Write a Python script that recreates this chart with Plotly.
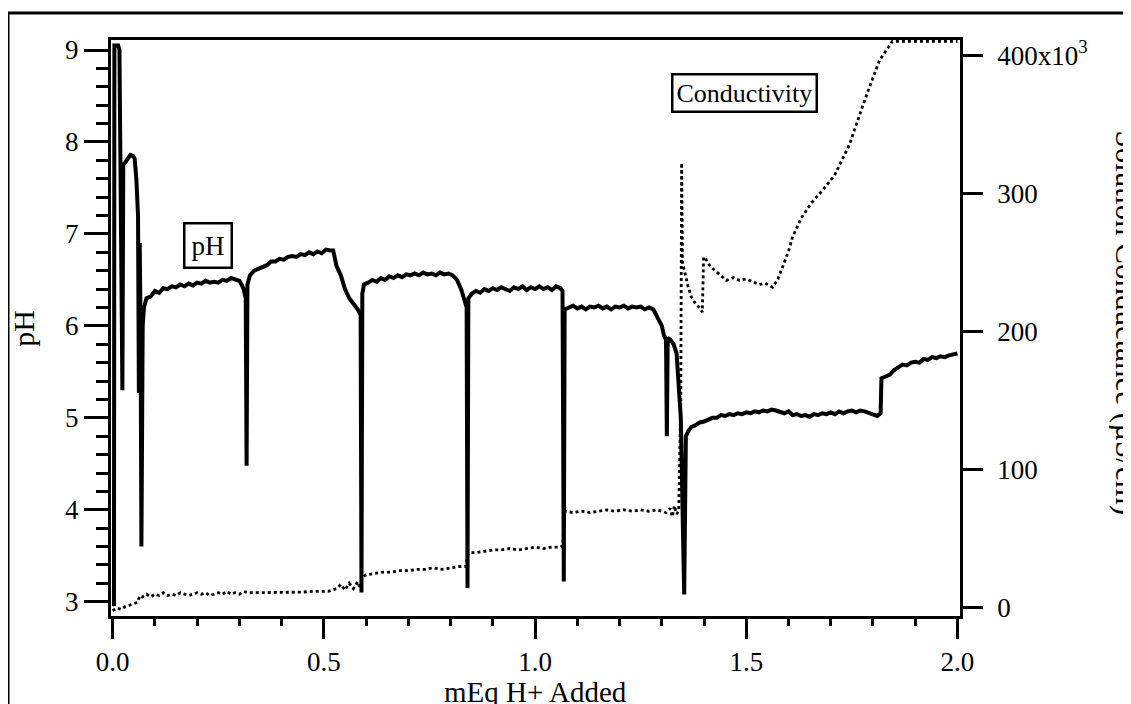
import plotly.graph_objects as go

# pH vs mEq H+ added (left axis)
ph_x = [0.003, 0.004, 0.013, 0.016, 0.023, 0.025, 0.030, 0.036, 0.042, 0.048, 0.052, 0.056, 0.060,
        0.062, 0.064, 0.066, 0.068, 0.071, 0.074, 0.080, 0.090, 0.100, 0.110, 0.120, 0.130, 0.140,
        0.150, 0.160, 0.170, 0.180, 0.190, 0.200, 0.210, 0.220, 0.230, 0.240, 0.250, 0.260, 0.270,
        0.280, 0.290, 0.300, 0.305, 0.310, 0.315, 0.317, 0.319, 0.325, 0.335, 0.345, 0.355, 0.365,
        0.375, 0.385, 0.395, 0.405, 0.415, 0.425, 0.435, 0.445, 0.455, 0.465, 0.475, 0.485, 0.495,
        0.505, 0.515, 0.522, 0.530, 0.540, 0.550, 0.560, 0.570, 0.580, 0.587, 0.589, 0.591, 0.595,
        0.605, 0.615, 0.625, 0.635, 0.645, 0.655, 0.665, 0.675, 0.685, 0.695, 0.705, 0.715, 0.725,
        0.735, 0.745, 0.755, 0.765, 0.775, 0.785, 0.795, 0.805, 0.815, 0.825, 0.833, 0.838, 0.840,
        0.842, 0.850, 0.860, 0.870, 0.880, 0.890, 0.900, 0.910, 0.920, 0.930, 0.940, 0.950, 0.960,
        0.970, 0.980, 0.990, 1.000, 1.010, 1.020, 1.030, 1.040, 1.050, 1.060, 1.065, 1.068, 1.070,
        1.080, 1.090, 1.100, 1.110, 1.120, 1.130, 1.140, 1.150, 1.160, 1.170, 1.180, 1.190, 1.200,
        1.210, 1.220, 1.230, 1.240, 1.250, 1.260, 1.270, 1.280, 1.290, 1.300, 1.305, 1.310, 1.312,
        1.314, 1.320, 1.328, 1.335, 1.345, 1.353, 1.357, 1.362, 1.370, 1.380, 1.390, 1.400, 1.410,
        1.420, 1.430, 1.440, 1.450, 1.460, 1.470, 1.480, 1.490, 1.500, 1.510, 1.520, 1.530, 1.540,
        1.550, 1.560, 1.570, 1.580, 1.590, 1.600, 1.610, 1.620, 1.630, 1.640, 1.650, 1.660, 1.670,
        1.680, 1.690, 1.700, 1.710, 1.720, 1.730, 1.740, 1.750, 1.760, 1.770, 1.780, 1.790, 1.800,
        1.810, 1.818, 1.820, 1.830, 1.840, 1.850, 1.860, 1.870, 1.880, 1.890, 1.900, 1.910, 1.920,
        1.930, 1.940, 1.950, 1.960, 1.970, 1.980, 1.990, 2.000]
ph_y = [2.95, 9.05, 9.05, 9.00, 5.30, 7.75, 7.78, 7.83, 7.86, 7.85, 7.82, 7.60, 7.20,
        5.27, 6.90, 6.00, 3.60, 6.00, 6.20, 6.30, 6.32, 6.38, 6.36, 6.41, 6.40, 6.43,
        6.42, 6.45, 6.43, 6.46, 6.44, 6.47, 6.46, 6.49, 6.47, 6.48, 6.47, 6.50, 6.49,
        6.52, 6.50, 6.49, 6.45, 6.40, 6.30, 4.48, 6.45, 6.55, 6.60, 6.62, 6.65, 6.66,
        6.70, 6.70, 6.73, 6.72, 6.75, 6.76, 6.75, 6.78, 6.77, 6.80, 6.78, 6.81, 6.79,
        6.83, 6.82, 6.82, 6.65, 6.55, 6.40, 6.30, 6.24, 6.18, 6.12, 3.10, 6.35, 6.45,
        6.47, 6.50, 6.48, 6.52, 6.50, 6.54, 6.52, 6.55, 6.53, 6.56, 6.55, 6.57, 6.55,
        6.58, 6.56, 6.57, 6.55, 6.58, 6.56, 6.57, 6.55, 6.50, 6.40, 6.25, 6.20, 3.15,
        6.30, 6.35, 6.38, 6.36, 6.40, 6.38, 6.41, 6.39, 6.42, 6.40, 6.38, 6.42, 6.40,
        6.43, 6.39, 6.42, 6.40, 6.43, 6.40, 6.42, 6.39, 6.43, 6.41, 6.38, 3.22, 6.18,
        6.20, 6.22, 6.19, 6.21, 6.18, 6.21, 6.20, 6.22, 6.19, 6.21, 6.18, 6.21, 6.20,
        6.22, 6.19, 6.21, 6.20, 6.21, 6.18, 6.20, 6.18, 6.10, 6.00, 5.90, 5.85, 4.80,
        5.87, 5.85, 5.80, 5.70, 5.00, 3.08, 4.80, 4.85, 4.90, 4.92, 4.95, 4.96, 4.98,
        5.00, 5.00, 5.03, 5.02, 5.04, 5.03, 5.05, 5.04, 5.06, 5.05, 5.07, 5.06, 5.08,
        5.07, 5.09, 5.08, 5.07, 5.05, 5.07, 5.03, 5.04, 5.02, 5.03, 5.01, 5.04, 5.03,
        5.05, 5.04, 5.06, 5.04, 5.07, 5.05, 5.07, 5.08, 5.06, 5.08, 5.07, 5.05, 5.03,
        5.02, 5.05, 5.43, 5.45, 5.47, 5.52, 5.55, 5.58, 5.57, 5.60, 5.61, 5.60, 5.64,
        5.63, 5.66, 5.65, 5.67, 5.66, 5.68, 5.69, 5.70]

# solution conductance, in thousands of uS/cm (right axis)
cond_x = [0.000, 0.010, 0.020, 0.030, 0.040, 0.050, 0.058, 0.062, 0.066, 0.070, 0.080, 0.090,
          0.100, 0.110, 0.120, 0.130, 0.140, 0.150, 0.160, 0.170, 0.180, 0.190, 0.200, 0.210,
          0.220, 0.230, 0.240, 0.250, 0.260, 0.270, 0.280, 0.290, 0.300, 0.310, 0.320, 0.330,
          0.350, 0.370, 0.390, 0.410, 0.430, 0.450, 0.470, 0.490, 0.510, 0.530, 0.540, 0.550,
          0.560, 0.570, 0.580, 0.586, 0.590, 0.600, 0.620, 0.640, 0.660, 0.680, 0.700, 0.720,
          0.740, 0.760, 0.780, 0.800, 0.820, 0.836, 0.840, 0.845, 0.860, 0.880, 0.900, 0.920,
          0.940, 0.960, 0.980, 1.000, 1.020, 1.040, 1.060, 1.066, 1.068, 1.072, 1.090, 1.110,
          1.130, 1.150, 1.170, 1.190, 1.210, 1.230, 1.250, 1.270, 1.290, 1.310, 1.320, 1.325,
          1.330, 1.335, 1.340, 1.345, 1.347, 1.349, 1.352, 1.356, 1.362, 1.370, 1.380, 1.390,
          1.396, 1.399, 1.405, 1.415, 1.430, 1.453, 1.470, 1.484, 1.500, 1.531, 1.545, 1.562,
          1.575, 1.586, 1.600, 1.609, 1.630, 1.654, 1.680, 1.709, 1.744, 1.780, 1.815, 1.846,
          1.900, 1.950, 2.000]
cond_k = [-2, 0, -1, 1, 2, 3, 4, 7, 9, 8, 10, 8,
          10, 9, 11, 9, 10, 9, 11, 10, 9, 10, 11, 10,
          11, 9, 10, 11, 10, 12, 10, 11, 10, 12, 11, 11,
          11, 11, 11, 11.5, 11.5, 11.5, 12, 12, 12, 14, 17, 13,
          18, 14, 19, 14, 22, 24, 25, 26, 26, 27, 27, 28,
          28, 29, 28, 29, 30, 30, 38, 40, 40, 41, 42, 42,
          43, 42, 43, 44, 43, 44, 44, 45, 68, 70, 69, 70,
          69, 70, 71, 70, 71, 70, 71, 70, 71, 69, 72, 66,
          74, 68, 70, 150, 322, 250, 246, 243, 233, 225, 220, 217,
          214, 254, 252, 247, 243, 237, 239, 237, 238, 234, 235, 232,
          238, 247, 258, 268, 282, 293, 302, 313, 335, 367, 396, 410,
          410, 410, 410]

cond_ticks = [0, 100, 200, 300, 400]
cond_ticktext = ["0", "100", "200", "300", "400x10<sup>3</sup>"]

FONT = "Liberation Serif"

fig = go.Figure()

fig.add_trace(go.Scatter(
    x=cond_x, y=cond_k, yaxis="y2", mode="lines",
    line=dict(color="black", width=2.8, dash="dot"),
    showlegend=False,
))
fig.add_trace(go.Scatter(
    x=ph_x, y=ph_y, mode="lines",
    line=dict(color="black", width=4),
    showlegend=False,
))

# page body adds an 8px offset, so margins are shifted to compensate
fig.update_layout(
    width=1131, height=704,
    margin=dict(l=103, r=179, t=32, b=96),
    plot_bgcolor="white", paper_bgcolor="white",
    font=dict(family=FONT, size=27, color="black"),
    xaxis=dict(
        range=[-0.004, 2.006], showgrid=False, zeroline=False,
        showline=True, linewidth=3, linecolor="black", mirror=True,
        tickvals=[0, 0.5, 1.0, 1.5, 2.0], ticktext=["0.0", "0.5", "1.0", "1.5", "2.0"],
        ticks="outside", ticklen=20, tickwidth=3, tickcolor="black",
        ticklabelstandoff=0,
        minor=dict(dtick=0.1, ticks="outside", ticklen=7, tickwidth=2.5, tickcolor="black"),
    ),
    yaxis=dict(
        range=[2.845, 9.109], showgrid=False, zeroline=False,
        showline=True, linewidth=3, linecolor="black",
        tickvals=[3, 4, 5, 6, 7, 8, 9],
        ticks="outside", ticklen=24, tickwidth=3, tickcolor="black",
        ticklabelstandoff=0,
        minor=dict(dtick=0.2, ticks="outside", ticklen=12, tickwidth=2.5, tickcolor="black"),
    ),
    yaxis2=dict(
        overlaying="y", side="right",
        range=[-5.8, 410.9], showgrid=False, zeroline=False,
        showline=True, linewidth=2.5, linecolor="black",
        tickvals=cond_ticks, ticktext=cond_ticktext,
        ticks="outside", ticklen=20, tickwidth=2.5, tickcolor="black",
        ticklabelstandoff=9,
    ),
)

# axis titles
fig.add_annotation(text="mEq H+ Added", xref="paper", yref="paper", x=0.5, y=-0.132,
                   showarrow=False, font=dict(size=29), xanchor="center", yanchor="middle")
fig.add_annotation(text="pH", xref="paper", yref="paper", x=-0.104, y=0.5, textangle=-90,
                   showarrow=False, font=dict(size=30), xanchor="center", yanchor="middle")
fig.add_annotation(text="Solution Conductance (µS/cm)", xref="paper", yref="paper",
                   x=1.196, y=0.509, textangle=90, showarrow=False, font=dict(size=31),
                   xanchor="center", yanchor="middle")

# boxed labels
fig.add_annotation(text="pH", xref="paper", yref="paper", x=0.1143, y=0.6424,
                   xanchor="center", yanchor="middle",
                   showarrow=False, font=dict(size=27), bgcolor="white",
                   bordercolor="black", borderwidth=2.5, borderpad=6)
fig.add_annotation(text="Conductivity", xref="paper", yref="paper", x=0.7456, y=0.908,
                   xanchor="center", yanchor="middle",
                   showarrow=False, font=dict(size=26), bgcolor="white",
                   bordercolor="black", borderwidth=2.5, borderpad=3)

# outer frame of the scanned figure
fig.add_shape(type="rect", xref="paper", yref="paper",
              x0=-0.1213, x1=1.21, y0=-0.17, y1=1.0469,
              line=dict(color="black", width=3), layer="below")

fig.write_html("out.html")
